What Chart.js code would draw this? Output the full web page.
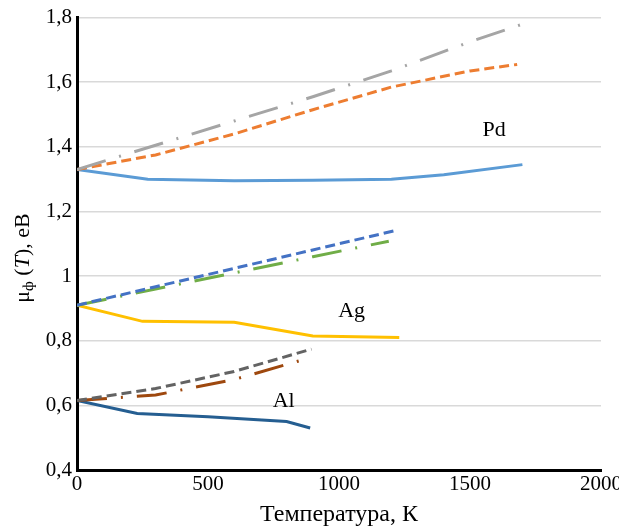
<!DOCTYPE html>
<html>
<head>
<meta charset="utf-8">
<script src="https://cdn.jsdelivr.net/npm/chart.js@4"></script>
<style>
  html, body { margin: 0; padding: 0; background: #fff; }
  #chart { display: block; }
</style>
</head>
<body>
<canvas id="chart" width="619" height="531"></canvas>
<script>
// Temperature ticks on the x axis
const xTicks = [0, 500, 1000, 1500, 2000];

// Pd curves
const pdSolidT = [0, 270, 600, 900, 1200, 1400, 1700];
const pdSolid = [1.33, 1.30, 1.295, 1.297, 1.30, 1.314, 1.345];
const pdDashT = [0, 300, 600, 900, 1200, 1500, 1680];
const pdDash = [1.33, 1.375, 1.44, 1.515, 1.585, 1.635, 1.655];
const pdDotT = [0, 300, 600, 900, 1200, 1500, 1720];
const pdDot = [1.33, 1.405, 1.48, 1.555, 1.635, 1.725, 1.785];

// Ag curves
const agSolidT = [0, 250, 600, 900, 1230];
const agSolid = [0.91, 0.86, 0.857, 0.815, 0.81];
const agDashT = [0, 300, 600, 900, 1220];
const agDash = [0.91, 0.967, 1.024, 1.081, 1.142];
const agDotT = [0, 300, 600, 900, 1190];
const agDot = [0.91, 0.96, 1.01, 1.06, 1.108];

// Al curves
const alSolidT = [0, 230, 500, 800, 890];
const alSolid = [0.615, 0.575, 0.565, 0.55, 0.53];
const alDashT = [0, 300, 600, 895];
const alDash = [0.615, 0.652, 0.705, 0.774];
const alDotT = [0, 300, 600, 870];
const alDot = [0.615, 0.632, 0.68, 0.743];

// Metal labels placed in data coordinates
const metalNames = ['Pd', 'Ag', 'Al'];
const metalLabelT = [1592, 1048, 789];
const metalLabelV = [1.452, 0.892, 0.612];

const serif = '"Liberation Serif", "DejaVu Serif", serif';

// zip two arrays into {x, y} points
function pts(xs, ys) {
    return xs.map((x, i) => ({ x: x, y: ys[i] }));
}

function series(xs, ys, color, dash) {
    return {
        data: pts(xs, ys),
        borderColor: color,
        borderWidth: 3,
        borderDash: dash,
        borderCapStyle: 'butt',
        pointRadius: 0,
        tension: 0,
        fill: false
    };
}

const dashed = [10, 5];
const dashDot = [30, 14, 2, 14];

// Metal names + rotated y axis title with subscript
const labelsPlugin = {
    id: 'labels',
    afterDraw(chart) {
        const ctx = chart.ctx;
        const xs = chart.scales.x, ys = chart.scales.y;
        ctx.save();
        ctx.fillStyle = '#000';
        ctx.font = '22px ' + serif;
        ctx.textAlign = 'center';
        ctx.textBaseline = 'middle';
        metalNames.forEach((name, i) => {
            ctx.fillText(name, xs.getPixelForValue(metalLabelT[i]), ys.getPixelForValue(metalLabelV[i]));
        });

        // y axis title: μф (T), eВ
        ctx.translate(23, 258);
        ctx.rotate(-Math.PI / 2);
        const parts = [
            { t: 'μ', f: '22px ' + serif, dy: 0 },
            { t: 'ф', f: '15px ' + serif, dy: 6 },
            { t: ' (', f: '22px ' + serif, dy: 0 },
            { t: 'T', f: 'italic 22px ' + serif, dy: 0 },
            { t: '), eВ', f: '22px ' + serif, dy: 0 }
        ];
        let total = 0;
        parts.forEach(p => { ctx.font = p.f; p.w = ctx.measureText(p.t).width; total += p.w; });
        let x = -total / 2;
        ctx.textAlign = 'left';
        parts.forEach(p => {
            ctx.font = p.f;
            ctx.fillText(p.t, x, p.dy);
            x += p.w;
        });
        ctx.restore();
    }
};

new Chart(document.getElementById('chart'), {
    type: 'line',
    data: {
        datasets: [
            series(pdDotT, pdDot, '#a5a5a5', dashDot),
            series(pdDashT, pdDash, '#ed7d31', dashed),
            series(pdSolidT, pdSolid, '#5b9bd5', []),
            series(agDashT, agDash, '#4472c4', dashed),
            series(agDotT, agDot, '#70ad47', dashDot),
            series(agSolidT, agSolid, '#ffc000', []),
            series(alDashT, alDash, '#636363', dashed),
            series(alDotT, alDot, '#9e480e', dashDot),
            series(alSolidT, alSolid, '#255e91', [])
        ]
    },
    options: {
        responsive: false,
        animation: false,
        layout: { padding: { top: 4, right: 0, bottom: 0, left: 0 } },
        plugins: {
            legend: { display: false },
            tooltip: { enabled: false }
        },
        scales: {
            x: {
                type: 'linear',
                min: xTicks[0],
                max: xTicks[xTicks.length - 1],
                afterBuildTicks: scale => { scale.ticks = xTicks.map(v => ({ value: v })); },
                afterFit: scale => { scale.height = 61; scale.paddingRight = 18; },
                grid: { display: false, drawTicks: false },
                border: { color: '#000', width: 3 },
                ticks: {
                    color: '#000',
                    font: { family: serif, size: 21 },
                    padding: 2,
                    maxRotation: 0,
                    callback: v => String(v)
                },
                title: {
                    display: true,
                    text: 'Температура, К',
                    color: '#000',
                    font: { family: serif, size: 24 },
                    padding: { top: 0, bottom: 2 }
                }
            },
            y: {
                min: 0.4,
                max: 1.8,
                afterFit: scale => { scale.width = 77; },
                grid: { color: '#d9d9d9', lineWidth: 1.5, drawTicks: false },
                border: { color: '#000', width: 3 },
                ticks: {
                    stepSize: 0.2,
                    color: '#000',
                    padding: 5,
                    font: { family: serif, size: 21 },
                    callback: v => String(Math.round(v * 10) / 10).replace('.', ',')
                }
            }
        }
    },
    plugins: [labelsPlugin]
});
</script>
</body>
</html>
